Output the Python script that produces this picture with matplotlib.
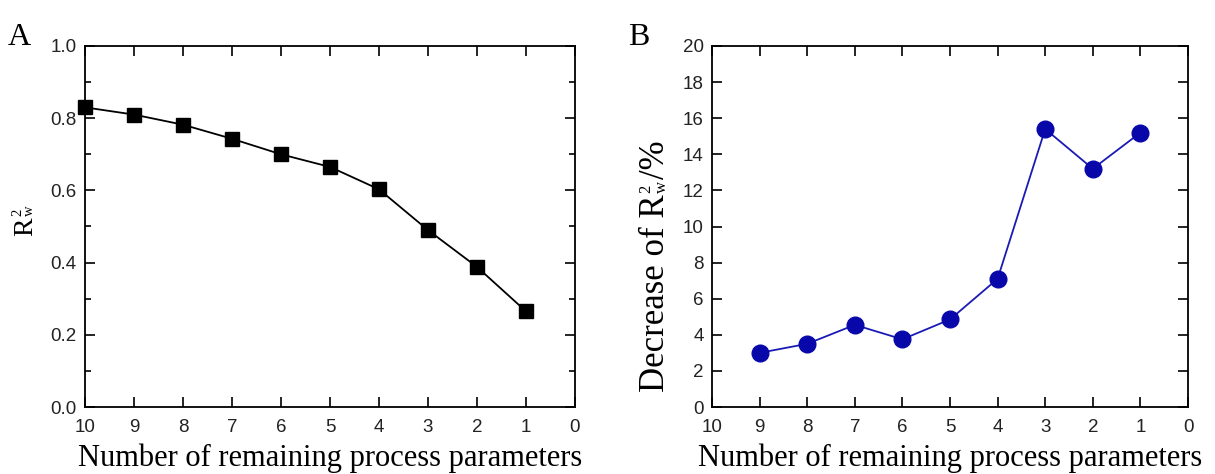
import matplotlib
matplotlib.use("Agg")
import matplotlib.pyplot as plt
from matplotlib.ticker import MultipleLocator

x_a = [10, 9, 8, 7, 6, 5, 4, 3, 2, 1]
r2w = [0.83, 0.81, 0.782, 0.743, 0.70, 0.665, 0.603, 0.49, 0.388, 0.265]

x_b = [9, 8, 7, 6, 5, 4, 3, 2, 1]
decrease = [3.0, 3.5, 4.55, 3.75, 4.85, 7.1, 15.4, 13.2, 15.2]

xticks = [10, 9, 8, 7, 6, 5, 4, 3, 2, 1, 0]
yticks_a = [0, 0.2, 0.4, 0.6, 0.8, 1.0]
yticks_b = list(range(0, 21, 2))

tick_font = "Liberation Sans"
label_font = "Liberation Serif"
tick_color = "#222222"

W, H = 1215, 474
fig = plt.figure(figsize=(W / 100, H / 100), dpi=100)
axA = fig.add_axes([85 / W, 1 - 407 / H, 490 / W, 361 / H])
axB = fig.add_axes([712 / W, 1 - 407 / H, 476 / W, 361 / H])

for ax in (axA, axB):
    ax.set_xlim(10, 0)
    ax.set_xticks(xticks)
    ax.tick_params(which="both", direction="in", top=True, right=True,
                   labelsize=13.5, width=1.2, labelcolor=tick_color)
    ax.tick_params(which="major", length=7)
    ax.tick_params(which="minor", length=4)
    ax.tick_params(axis="x", pad=9)
    ax.tick_params(axis="y", pad=6)
    for s in ax.spines.values():
        s.set_linewidth(1.3)
    ax.set_xlabel("Number of remaining process parameters",
                  fontfamily=label_font, fontsize=22, labelpad=5)

axA.plot(x_a, r2w, color="black", lw=1.3, marker="s", markersize=10.5,
         clip_on=False, zorder=3)
axA.set_ylim(0, 1.0)
axA.set_yticks(yticks_a)
axA.yaxis.set_minor_locator(MultipleLocator(0.1))
axA.set_yticklabels([f"{v:.1f}" for v in yticks_a])

axB.plot(x_b, decrease, color="#1a1ab4", lw=1.3, marker="o", markersize=12,
         markerfacecolor="#0808aa", markeredgecolor="#0808aa",
         clip_on=False, zorder=3)
axB.set_ylim(0, 20)
axB.set_yticks(yticks_b)
axB.set_yticklabels([str(v) for v in yticks_b])

for ax in (axA, axB):
    for lab in ax.get_xticklabels() + ax.get_yticklabels():
        lab.set_fontfamily(tick_font)


def rtext(xs, ys, s, size):
    # rotated text anchored at start of baseline, given in screen pixels
    return fig.text(xs / W, 1 - ys / H, s, rotation=90, rotation_mode="anchor",
                    ha="left", va="baseline", fontfamily=label_font, fontsize=size)


def rot_label(base_x, bottom_y, main, after, size, ssize, sup_dx, sub_dx):
    t = rtext(base_x, bottom_y, main, size)
    fig.canvas.draw()
    bb = t.get_window_extent()
    top_screen = H - bb.y1
    y0 = top_screen - 1.5
    t2 = rtext(base_x - sup_dx, y0, "2", ssize)
    t3 = rtext(base_x - sub_dx, y0, "w", ssize)
    fig.canvas.draw()
    end = min(H - t2.get_window_extent().y1, H - t3.get_window_extent().y1)
    if after:
        rtext(base_x, end - 2, after, size)


rot_label(32, 236, "R", "", 20, 10.5, 11, -1)
rot_label(664, 392, "Decrease of R", "/%", 25, 12, 14, -2)

fig.text(8 / W, 1 - 45 / H, "A", fontfamily=label_font, fontsize=23)
fig.text(628 / W, 1 - 45 / H, "B", fontfamily=label_font, fontsize=23)

fig.savefig("out.png", dpi=100)
